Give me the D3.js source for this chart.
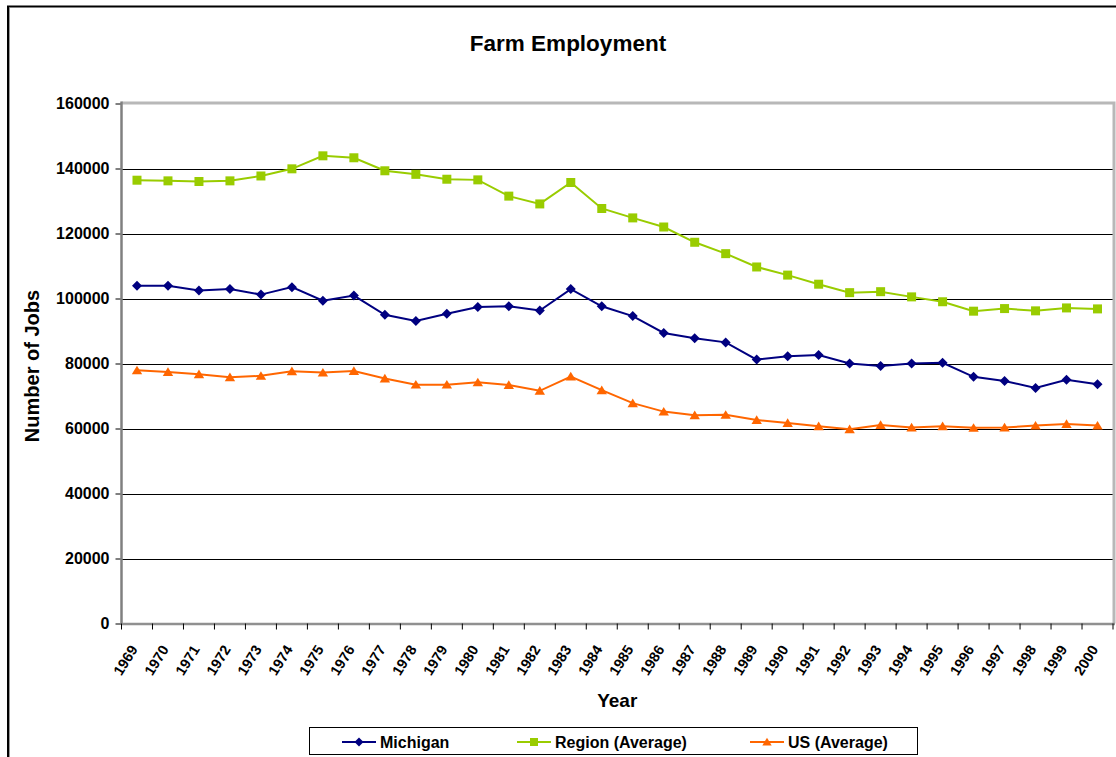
<!DOCTYPE html>
<html>
<head>
<meta charset="utf-8">
<script src="https://cdn.jsdelivr.net/npm/d3@7"></script>
<style>
  html, body { margin: 0; padding: 0; background: #fff; }
  svg { display: block; font-family: "Liberation Sans", Arial, sans-serif; }
</style>
</head>
<body>
<svg id="chart" width="1116" height="757"></svg>
<script>
// Farm employment, 1969-2000
const years = d3.range(1969, 2001).map(String);

const michigan = [103900, 103900, 102500, 102900, 101200, 103500, 99300, 100900,
  95000, 93100, 95300, 97400, 97600, 96300, 102900, 97600, 94600, 89400, 87800,
  86500, 81200, 82200, 82600, 80000, 79200, 80000, 80200, 75900, 74600, 72500,
  75000, 73600];

const region = [136400, 136200, 136000, 136200, 137700, 139900, 143900, 143300,
  139300, 138200, 136700, 136500, 131500, 129100, 135700, 127700, 124800, 122000,
  117300, 113800, 109700, 107200, 104400, 101800, 102100, 100500, 99000, 96100,
  96900, 96200, 97100, 96800];

const us = [77900, 77400, 76700, 75800, 76200, 77600, 77200, 77700, 75400,
  73500, 73500, 74200, 73400, 71600, 76000, 71800, 67800, 65200, 64100, 64200,
  62600, 61700, 60700, 59800, 61100, 60300, 60700, 60200, 60300, 60900, 61400,
  60900];

const yTicks = [0, 20000, 40000, 60000, 80000, 100000, 120000, 140000, 160000];

const seriesNames = ["Michigan", "Region (Average)", "US (Average)"];
const seriesColors = ["#000080", "#99CC00", "#FF6600"];

// marker outlines, drawn around (0,0)
const markerPaths = {
  diamond: r => `M0,${-r}L${r},0L0,${r}L${-r},0Z`,
  square: r => `M${-r},${-r}H${r}V${r}H${-r}Z`,
  triangle: r => `M0,${-r}L${r + 0.5},${r * 0.85}H${-r - 0.5}Z`
};
const seriesShapes = ["diamond", "square", "triangle"];
const markerRadius = [5, 4.5, 4.7];

const series = [michigan, region, us].map((values, i) => ({
  name: seriesNames[i], color: seriesColors[i],
  marker: markerPaths[seriesShapes[i]], r: markerRadius[i], values
}));

const svg = d3.select("#chart");
const plot = { left: 121.5, top: 103.5, right: 1113, bottom: 623.5 };

// outer chart frame
svg.append("path")
  .attr("d", `M8,760 L8,6.5 L1120,6.5`)
  .attr("fill", "none").attr("stroke", "#000").attr("stroke-width", 2);
svg.append("path")
  .attr("d", `M9.5,760 L9.5,8`)
  .attr("fill", "none").attr("stroke", "#999").attr("stroke-width", 1);

const x = d3.scaleBand().domain(years).range([plot.left, plot.right]);
const y = d3.scaleLinear().domain([0, 160000]).range([plot.bottom, plot.top]);
const cx = d => x(d) + x.bandwidth() / 2;

// gridlines
svg.append("g")
  .selectAll("line")
  .data(yTicks.filter(d => d > 0 && d < 160000))
  .join("line")
  .attr("x1", plot.left).attr("x2", plot.right)
  .attr("y1", d => Math.round(y(d)) + 0.5).attr("y2", d => Math.round(y(d)) + 0.5)
  .attr("stroke", "#000").attr("stroke-width", 1);

// plot area border (top and right)
svg.append("path")
  .attr("d", `M${plot.left},${plot.top - 0.5} L${plot.right + 1},${plot.top - 0.5} L${plot.right + 1},${plot.bottom}`)
  .attr("fill", "none").attr("stroke", "#b8b8b8").attr("stroke-width", 3);

// y axis
const yAxis = svg.append("g")
  .attr("transform", `translate(${plot.left},0)`)
  .call(d3.axisLeft(y).tickValues(yTicks).tickFormat(d3.format("d")).tickSize(6).tickPadding(6));
yAxis.select(".domain").remove();
yAxis.selectAll(".tick line").attr("stroke", "#000");
yAxis.selectAll(".tick text")
  .attr("font-size", 16).attr("font-weight", "bold").attr("fill", "#000")
  .attr("font-family", "'Liberation Sans', Arial, sans-serif");
svg.append("line")
  .attr("x1", plot.left).attr("x2", plot.left)
  .attr("y1", plot.top - 2).attr("y2", plot.bottom + 1)
  .attr("stroke", "#808080").attr("stroke-width", 2.5);

// x axis (ticks between categories)
const xAxis = svg.append("g")
  .attr("transform", `translate(0,${plot.bottom})`);
xAxis.append("line")
  .attr("x1", plot.left).attr("x2", plot.right + 2)
  .attr("y1", 0.5).attr("y2", 0.5)
  .attr("stroke", "#909090").attr("stroke-width", 2.5);
xAxis.selectAll("line.tk")
  .data(years.concat(["end"]))
  .join("line").attr("class", "tk")
  .attr("x1", (d, i) => plot.left + i * x.step())
  .attr("x2", (d, i) => plot.left + i * x.step())
  .attr("y1", 0).attr("y2", 6)
  .attr("stroke", "#000");
xAxis.selectAll("text")
  .data(years)
  .join("text")
  .attr("transform", d => `translate(${cx(d) - 3},${23}) rotate(-58)`)
  .attr("text-anchor", "end")
  .attr("dy", "0.35em")
  .attr("font-size", 14.5).attr("font-weight", "bold")
  .text(d => d);

// titles
svg.append("text")
  .attr("x", 568).attr("y", 51)
  .attr("text-anchor", "middle")
  .attr("font-size", 22.5).attr("font-weight", "bold")
  .text("Farm Employment");
svg.append("text")
  .attr("x", (plot.left + plot.right) / 2).attr("y", 707)
  .attr("text-anchor", "middle")
  .attr("font-size", 19).attr("font-weight", "bold")
  .text("Year");
svg.append("text")
  .attr("transform", `translate(39,366) rotate(-90)`)
  .attr("text-anchor", "middle")
  .attr("font-size", 20).attr("font-weight", "bold")
  .text("Number of Jobs");

// series lines and markers
const line = d3.line()
  .x((d, i) => cx(years[i]))
  .y(d => y(d));

series.forEach(s => {
  const g = svg.append("g");
  g.append("path")
    .datum(s.values)
    .attr("d", line)
    .attr("fill", "none")
    .attr("stroke", s.color)
    .attr("stroke-width", 2);
  g.selectAll("path.m")
    .data(s.values)
    .join("path").attr("class", "m")
    .attr("transform", (d, i) => `translate(${cx(years[i])},${y(d)})`)
    .attr("d", s.marker(s.r))
    .attr("fill", s.color);
});

// legend
const legend = svg.append("g");
legend.append("rect")
  .attr("x", 309.5).attr("y", 727.5).attr("width", 608).attr("height", 27)
  .attr("fill", "#fff").attr("stroke", "#000").attr("stroke-width", 1);
const legendX = [342, 517, 750];
series.forEach((s, i) => {
  const lg = legend.append("g").attr("transform", `translate(${legendX[i]},742)`);
  lg.append("line").attr("x1", 0).attr("x2", 34).attr("y1", 0).attr("y2", 0)
    .attr("stroke", s.color).attr("stroke-width", 2);
  lg.append("path").attr("transform", "translate(17,0)")
    .attr("d", s.marker(s.r - 0.5)).attr("fill", s.color);
  lg.append("text").attr("x", 38).attr("y", 0).attr("dy", "0.35em")
    .attr("font-size", 16).attr("font-weight", "bold").text(s.name);
});
</script>
</body>
</html>
